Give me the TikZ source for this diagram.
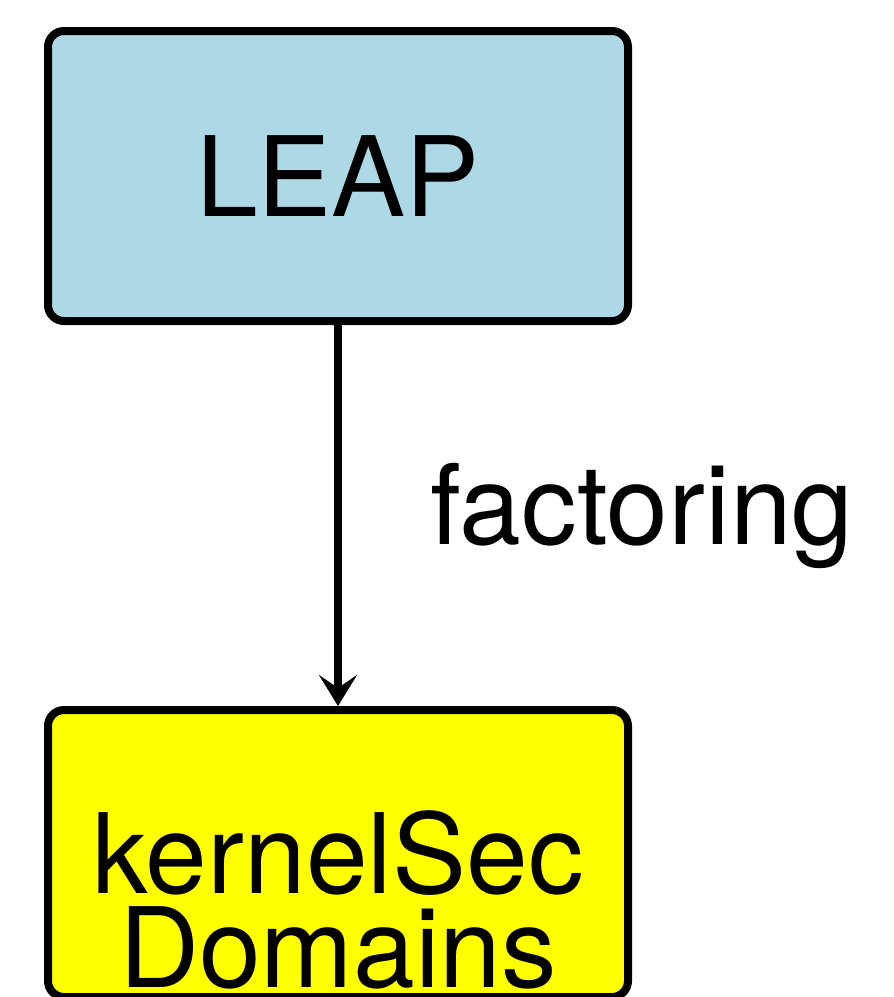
\documentclass[tikz,border=0pt]{standalone}
\usepackage{fontspec}
\setmainfont{TeX Gyre Heros}
\usepackage{tikz}
\usetikzlibrary{positioning,arrows.meta}
\definecolor{LeapBlue}{RGB}{173,216,230}
\definecolor{KernelYellow}{RGB}{255,255,0}

\begin{document}
\begin{tikzpicture}[x=1pt,y=-1pt,
  box/.style={draw,line width=8pt,rounded corners=16pt,minimum width=580pt,font=\fontsize{111}{94}\selectfont}]
 \useasboundingbox (0,0) rectangle (894,997);
 \node[box,fill=LeapBlue,minimum height=290pt](leap) at (338,176){LEAP};
 \node[box,fill=KernelYellow,minimum height=287pt,below=381pt of leap](kernel){};
 % two-line caption sits low in the yellow box
 \node[font=\fontsize{111}{94}\selectfont,align=center,inner sep=0pt,anchor=south](kernelTxt) at ([yshift=12pt]kernel.south){kernelSec\\Domains};
 \draw[line width=8pt,-{Stealth[length=31pt,width=38pt,inset=13pt]}](leap) -- node[right=88pt,inner sep=0pt,font=\fontsize{111}{94}\selectfont]{factoring}(kernel);
\end{tikzpicture}
\end{document}
